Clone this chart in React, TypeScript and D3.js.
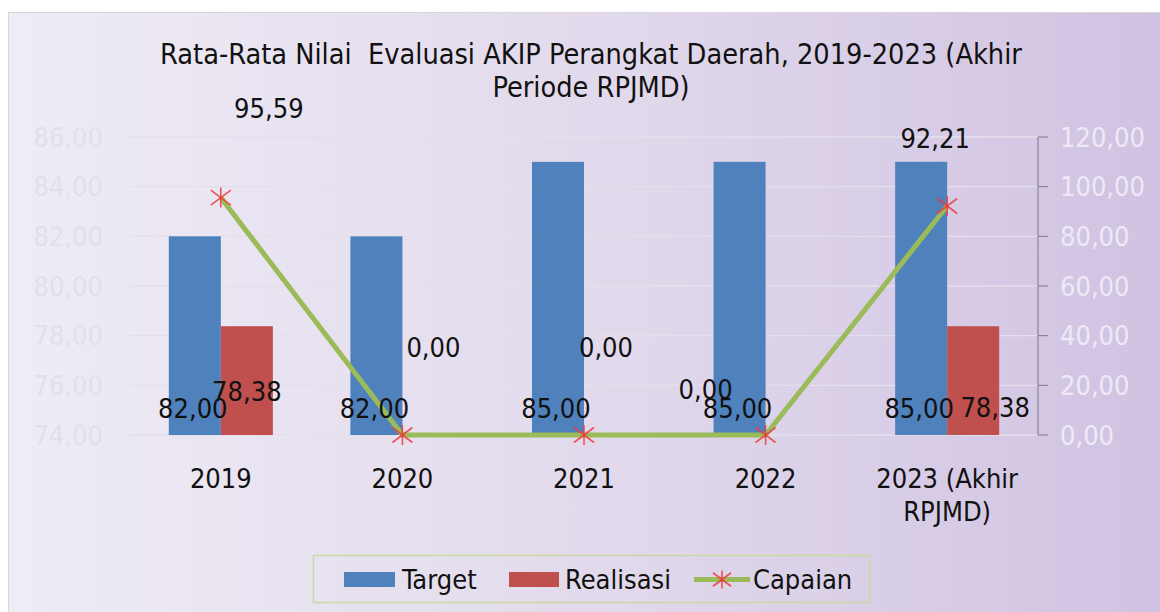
import React from "react";
import * as d3 from "d3";

const categories = ["2019", "2020", "2021", "2022", "2023 (Akhir RPJMD)"];
const categoryLines = [["2019"], ["2020"], ["2021"], ["2022"], ["2023 (Akhir", "RPJMD)"]];
const target = [82.0, 82.0, 85.0, 85.0, 85.0];
const realisasi = [78.38, null, null, null, 78.38];
const capaian = [95.59, 0.0, 0.0, 0.0, 92.21];
const leftTicks = [74, 76, 78, 80, 82, 84, 86];
const rightTicks = [0, 20, 40, 60, 80, 100, 120];
const titleLines = ["Rata-Rata Nilai  Evaluasi AKIP Perangkat Daerah, 2019-2023 (Akhir", "Periode RPJMD)"];

const W = 1160;
const H = 612;
const PL = 130, PR = 1038, PT = 137, PB = 435;
const FONT = "'DejaVu Sans Condensed', 'DejaVu Sans', sans-serif";
const FS = 27;
const BLUE = "#4F81BD";
const RED = "#C0504D";
const GREEN = "#9BBB59";

// label offsets (layout)
const capOffsets = [[48, -80], [31, -78], [22, -78], [-60, -36], [-12, -58]];
const realOffsets = [[0, -34], [0, 0], [0, 0], [0, 0], [22, -18]];

const fmt = (v: number) => d3.format(".2f")(v).replace(".", ",");

function Star({ x, y, s = 10 }: { x: number; y: number; s?: number }) {
  return (
    <g stroke="#F03A3A" strokeWidth={1.6} strokeOpacity={0.85}>
      <line x1={x - s} y1={y - s * 0.75} x2={x + s} y2={y + s * 0.75} />
      <line x1={x - s} y1={y + s * 0.75} x2={x + s} y2={y - s * 0.75} />
      <line x1={x} y1={y - s} x2={x} y2={y + s} />
    </g>
  );
}

export default function App() {
  const x0 = d3.scaleBand<string>().domain(categories).range([PL, PR]).paddingInner(0.427).paddingOuter(0.2137);
  const x1 = d3.scaleBand<string>().domain(["Target", "Realisasi"]).range([0, x0.bandwidth()]);
  const yL = d3.scaleLinear().domain([74, 86]).range([PB, PT]);
  const yR = d3.scaleLinear().domain([0, 120]).range([PB, PT]);
  const cx = (c: string) => (x0(c) as number) + x0.bandwidth() / 2;
  const line = d3.line<number>().x((_, i) => cx(categories[i])).y((d) => yR(d));

  return (
    <svg width={W} height={H} style={{ position: "absolute", left: 0, top: 0 }} fontFamily={FONT}>
      <defs>
        <linearGradient id="bg" x1="0" x2="1" y1="0" y2="0">
          <stop offset="0" stopColor="#EFECF5" />
          <stop offset="0.5" stopColor="#E2DAEC" />
          <stop offset="1" stopColor="#D0C2E2" />
        </linearGradient>
      </defs>
      <rect x={0} y={0} width={W} height={H} fill="#FFFFFF" />
      <rect x={8.5} y={12.5} width={W} height={H} fill="url(#bg)" stroke="#D8D6DC" strokeWidth={1} />

      {/* title */}
      <g fontSize={28.6} fill="#111" textAnchor="middle">
        {titleLines.map((t, i) => (
          <text key={i} x={591} y={64 + i * 33} style={{ whiteSpace: "pre" }}>{t}</text>
        ))}
      </g>

      {/* gridlines */}
      {leftTicks.map((t) => (
        <line key={t} x1={PL} x2={PR} y1={yL(t)} y2={yL(t)} stroke="#E4DFEC" strokeWidth={1.3} />
      ))}

      {/* left axis labels */}
      <g fontSize={FS} fill="#E3DFE9" textAnchor="end">
        {leftTicks.map((t) => (
          <text key={t} x={103} y={yL(t)} dy="0.36em">{fmt(t)}</text>
        ))}
      </g>

      {/* right axis */}
      <line x1={PR} x2={PR} y1={PT} y2={PB} stroke="#7D7888" strokeWidth={1} />
      {rightTicks.map((t) => (
        <line key={t} x1={PR} x2={PR + 10} y1={yR(t)} y2={yR(t)} stroke="#7D7888" strokeWidth={1} />
      ))}
      <g fontSize={FS} fill="#EEE9F6" textAnchor="start">
        {rightTicks.map((t) => (
          <text key={t} x={1060} y={yR(t)} dy="0.36em">{fmt(t)}</text>
        ))}
      </g>

      {/* bars */}
      {categories.map((c, i) => (
        <g key={c}>
          <rect x={(x0(c) as number) + (x1("Target") as number)} y={yL(target[i])} width={x1.bandwidth()} height={yL(74) - yL(target[i])} fill={BLUE} />
          {realisasi[i] != null && (
            <rect x={(x0(c) as number) + (x1("Realisasi") as number)} y={yL(realisasi[i] as number)} width={x1.bandwidth()} height={yL(74) - yL(realisasi[i] as number)} fill={RED} />
          )}
        </g>
      ))}

      {/* capaian line */}
      <path d={line(capaian) || ""} fill="none" stroke={GREEN} strokeWidth={5} strokeLinejoin="round" />
      {capaian.map((v, i) => (
        <Star key={i} x={cx(categories[i])} y={yR(v)} />
      ))}

      {/* data labels */}
      <g fontSize={FS} fill="#111" textAnchor="middle">
        {target.map((v, i) => (
          <text key={"t" + i} x={(x0(categories[i]) as number) + (x1("Target") as number) + x1.bandwidth() / 2 - 2} y={418}>{fmt(v)}</text>
        ))}
        {realisasi.map((v, i) =>
          v == null ? null : (
            <text key={"r" + i} x={(x0(categories[i]) as number) + (x1("Realisasi") as number) + x1.bandwidth() / 2 + realOffsets[i][0]} y={yL(74) + realOffsets[i][1]}>{fmt(v)}</text>
          )
        )}
        {capaian.map((v, i) => (
          <text key={"c" + i} x={cx(categories[i]) + capOffsets[i][0]} y={yR(v) + capOffsets[i][1]}>{fmt(v)}</text>
        ))}
      </g>

      {/* category labels */}
      <g fontSize={FS} fill="#111" textAnchor="middle">
        {categoryLines.map((ls, i) => (
          <text key={i} x={cx(categories[i])} y={488}>
            {ls.map((l, j) => (
              <tspan key={j} x={cx(categories[i])} dy={j === 0 ? 0 : 33}>{l}</tspan>
            ))}
          </text>
        ))}
      </g>

      {/* legend */}
      <rect x={313.5} y={555.5} width={556} height={47} fill="none" stroke="#C8DA9E" strokeWidth={1.5} />
      <rect x={344} y={572} width={51} height={15} fill={BLUE} />
      <text x={402} y={589} fontSize={FS} fill="#111">Target</text>
      <rect x={509} y={572} width={50} height={15} fill={RED} />
      <text x={565} y={589} fontSize={FS} fill="#111">Realisasi</text>
      <line x1={694} x2={750} y1={579.5} y2={579.5} stroke={GREEN} strokeWidth={5} />
      <Star x={722} y={579.5} s={9} />
      <text x={753} y={589} fontSize={FS} fill="#111">Capaian</text>
    </svg>
  );
}
